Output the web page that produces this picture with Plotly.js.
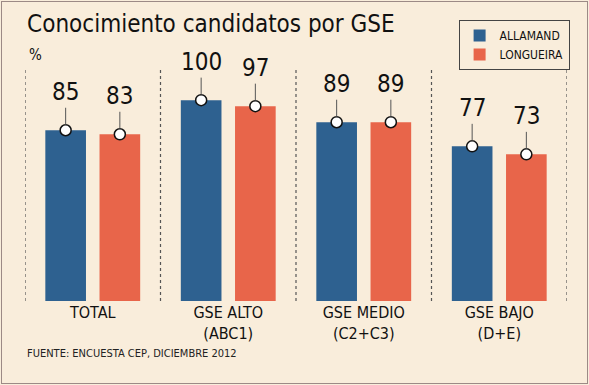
<!DOCTYPE html>
<html>
<head>
<meta charset="utf-8">
<script src="https://cdn.plot.ly/plotly-3.0.1.min.js"></script>
<style>
html,body{margin:0;padding:0;background:#ffffff;}
#chart{width:589px;height:385px;}
</style>
</head>
<body>
<div id="chart"></div>
<script>
// ---- data ----
const categories = ["TOTAL", "GSE ALTO<br>(ABC1)", "GSE MEDIO<br>(C2+C3)", "GSE BAJO<br>(D+E)"];
const seriesNames = ["ALLAMAND", "LONGUEIRA"];
const allamand = [85, 100, 89, 77];
const longueira = [83, 97, 89, 73];
const sourceText = "FUENTE: ENCUESTA CEP, DICIEMBRE 2012";
const titleText = "Conocimiento candidatos por GSE";
const unitText = "%";

// ---- styling ----
const FONT = "'DejaVu Sans Condensed', 'DejaVu Sans', sans-serif";
const BG = "#f9eddb";
const COLORS = ["#2e6190", "#e8654a"];
const BAR_W = 0.30, GAP = 0.10;
const idx = categories.map((_, i) => i);
const offsets = [-(BAR_W + GAP / 2), GAP / 2];
const values = [allamand, longueira];

const traces = [];
values.forEach((vals, s) => {
  traces.push({
    type: "bar", name: seriesNames[s], x: idx, y: vals,
    width: BAR_W, offset: offsets[s],
    marker: {color: COLORS[s], line: {width: 0}},
    hoverinfo: "skip"
  });
});
const annotations = [];
values.forEach((vals, s) => {
  const xs = idx.map(i => i + offsets[s] + BAR_W / 2);
  traces.push({
    type: "scatter", mode: "markers", x: xs, y: vals, showlegend: false,
    marker: {color: "#ffffff", size: 11, line: {color: "#111111", width: 1.5}},
    hoverinfo: "skip", cliponaxis: false
  });
  xs.forEach((x, k) => {
    annotations.push({
      x: x, y: vals[k], xref: "x", yref: "y", text: String(vals[k]),
      showarrow: true, arrowhead: 0, arrowwidth: 1, arrowcolor: "#555555",
      ax: 0, ay: -38, standoff: 5.5,
      font: {family: FONT, size: 24, color: "#111111"}
    });
  });
});
annotations.push({
  xref: "paper", yref: "paper", x: 0.004, y: 1.065, xanchor: "left", yanchor: "middle",
  text: unitText, showarrow: false, font: {family: FONT, size: 15, color: "#111111"}
});
annotations.push({
  xref: "paper", yref: "paper", x: 0.0, y: -0.229, xanchor: "left", yanchor: "middle",
  text: sourceText, showarrow: false, font: {family: FONT, size: 11, color: "#222222"}
});

const shapes = [];
for (let i = 0; i <= categories.length; i++) {
  shapes.push({
    type: "line", xref: "x", yref: "paper", x0: i - 0.5, x1: i - 0.5, y0: 0, y1: 1,
    line: {color: "#555555", width: 1.2, dash: "dot"}, layer: "below"
  });
}

const layout = {
  width: 589, height: 385,
  paper_bgcolor: BG, plot_bgcolor: BG,
  margin: {l: 25, r: 22, t: 70, b: 84},
  title: {
    text: titleText, xref: "container", yref: "container",
    x: 0.046, xanchor: "left", y: 0.938, yanchor: "middle",
    font: {family: FONT, size: 24, color: "#111111"}
  },
  showlegend: true,
  legend: {
    x: 0.80, y: 1.216, xanchor: "left", yanchor: "top",
    bgcolor: BG, bordercolor: "#444444", borderwidth: 1,
    font: {family: FONT, size: 12, color: "#111111"},
    tracegroupgap: 0
  },
  xaxis: {
    type: "linear", range: [-0.5, categories.length - 0.5],
    tickvals: idx, ticktext: categories, ticks: "", showgrid: false, zeroline: false,
    showline: false, fixedrange: true,
    tickfont: {family: FONT, size: 16, color: "#111111"}
  },
  yaxis: {
    range: [0, 115], showgrid: false, zeroline: false, showticklabels: false,
    ticks: "", showline: false, fixedrange: true
  },
  annotations: annotations,
  shapes: shapes
};

Plotly.newPlot("chart", traces, layout, {displayModeBar: false, staticPlot: true}).then(() => {
  // thin frame around the whole graphic
  const frame = document.createElement("div");
  frame.style.cssText = "position:absolute;left:1px;top:1px;width:585px;height:381px;border:1px solid #9c8a86;pointer-events:none;";
  document.body.appendChild(frame);
});
</script>
</body>
</html>
